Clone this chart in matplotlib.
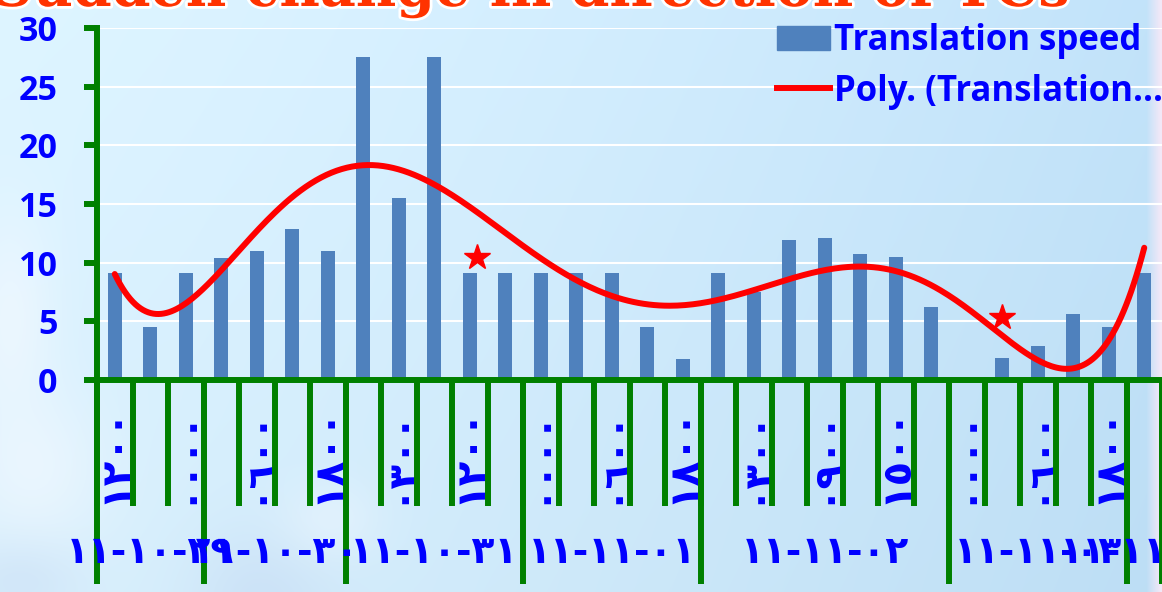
import numpy as np
import matplotlib
matplotlib.use("Agg")
import matplotlib.pyplot as plt
import matplotlib.patheffects as pe
from matplotlib.lines import Line2D
from matplotlib.patches import Patch

# translation speed of each fix
speed = [9.1, 4.5, 9.1, 10.4, 11.0, 12.9, 11.0, 27.5, 15.5, 27.5,
         9.1, 9.1, 9.1, 9.1, 9.1, 4.5, 1.8, 9.1, 7.5, 11.9,
         12.1, 10.7, 10.5, 6.2, 0.0, 1.9, 2.9, 5.6, 4.5, 9.1]

# observation hour, written on every second fix
hours = ["١٢٠٠", "", "٠٠٠٠", "", "٠٦٠٠", "", "١٨٠٠", "", "٠٣٠٠", "",
         "١٢٠٠", "", "٠٠٠٠", "", "٠٦٠٠", "", "١٨٠٠", "", "٠٣٠٠", "",
         "٠٩٠٠", "", "١٥٠٠", "", "٠٠٠٠", "", "٠٦٠٠", "", "١٨٠٠", ""]

# dates and how many fixes fall on each one
dates = ["١١-١٠-٢٩", "١١-١٠-٣٠", "١١-١٠-٣١", "١١-١١-٠١",
         "١١-١١-٠٢", "١١-١١-٠٣", "١١-١١-٠٤"]
fixes_per_date = [3, 4, 5, 5, 7, 5, 1]

# sudden direction changes
change_x = [11.2, 26.0]
change_y = [10.5, 5.4]

W, H = 1162, 592
GREEN = "#008000"
BLUE = "#0000FF"

plt.rcParams["font.family"] = ["Open Sans", "DejaVu Sans"]
plt.rcParams["font.weight"] = "bold"


def sky(w, h):
    yy, xx = np.mgrid[0:h, 0:w].astype(float)
    fx = xx / (w - 1)
    fy = yy / (h - 1)
    left = np.array([0.85, 0.94, 0.99])
    right = np.array([0.74, 0.87, 0.96])
    img = left + (right - left) * (fx ** 1.3)[..., None]
    img = img + 0.02 * (1 - fy)[..., None]

    def blob(cx, cy, sx, sy):
        return np.exp(-(((xx - cx) / sx) ** 2 + ((yy - cy) / sy) ** 2))[..., None]

    white = np.array([0.97, 0.98, 1.0])
    shade = np.array([0.76, 0.84, 0.95])
    for cx, cy, sx, sy, a, col in [(10, 320, 45, 110, 0.55, white),
                                   (35, 470, 70, 80, 0.5, white),
                                   (20, 580, 60, 40, 0.35, shade),
                                   (260, 600, 70, 70, 0.45, shade),
                                   (330, 520, 50, 40, 0.35, white)]:
        b = a * blob(cx, cy, sx, sy)
        img = img * (1 - b) + col * b

    edge = np.clip((xx - 1146) / 14, 0, 1)[..., None]
    img = img * (1 - edge) + np.array([0.95, 0.91, 0.97]) * edge
    return np.clip(img, 0, 1)


fig = plt.figure(figsize=(W / 100, H / 100), dpi=100)
bg = fig.add_axes([0, 0, 1, 1], zorder=-10)
bg.imshow(sky(W, H), aspect="auto", interpolation="bilinear")
bg.axis("off")

ax = fig.add_axes([97 / W, (H - 380) / H, (W - 97) / W, 352 / H])
ax.set_facecolor("none")

x = np.arange(1, len(speed) + 1)
ax.bar(x, speed, width=0.4, color="#4F81BD", zorder=2)

# 6th order polynomial trend of the speed
coef = np.polyfit(x, speed, 6)
xs = np.linspace(1, len(speed), 400)
ax.plot(xs, np.polyval(coef, xs), color="red", lw=4.3, zorder=3,
        solid_capstyle="round")
ax.plot(change_x, change_y, "*", color="red", ms=19, zorder=4)

ax.set_xlim(0.5, len(speed) + 0.5)
ax.set_ylim(0, 30)

for side in ["top", "right"]:
    ax.spines[side].set_visible(False)
for side in ["left", "bottom"]:
    ax.spines[side].set_color(GREEN)
    ax.spines[side].set_linewidth(4.3)
    ax.spines[side].set_zorder(5)

ax.yaxis.grid(True, color="white", lw=1.5, zorder=1)
ax.set_axisbelow(True)

ax.set_yticks(range(0, 31, 5))
ax.tick_params(axis="y", length=9.4, width=4.3, color=GREEN, pad=19,
               labelsize=24.5, labelcolor=BLUE)

# hour labels under each fix, category dividers between fixes
ax.set_xticks(x, hours, rotation=90, family=["DejaVu Sans"], fontsize=29,
              color=BLUE, fontweight="bold")
for lbl in ax.get_xticklabels():
    lbl.set_va("center")
ax.tick_params(axis="x", which="major", length=0, pad=54)
ax.set_xticks(np.arange(0.5, len(speed) + 1), minor=True)
ax.tick_params(axis="x", which="minor", length=90.7, width=4.3, color=GREEN)

# second level: dates
bounds = 0.5 + np.concatenate([[0], np.cumsum(fixes_per_date)])
sec = ax.secondary_xaxis("bottom")
sec.spines["bottom"].set_visible(False)
sec.set_xticks(bounds, [""] * len(bounds))
sec.tick_params(axis="x", which="major", length=147, width=4.3, color=GREEN)
sec.set_xticks((bounds[:-1] + bounds[1:]) / 2, dates, minor=True,
               family=["DejaVu Sans"], fontsize=27, color=BLUE,
               fontweight="bold")
for lbl in sec.get_xticklabels(minor=True):
    lbl.set_va("center")
sec.tick_params(axis="x", which="minor", length=0, pad=124.6)

handles = [Patch(color="#4F81BD"), Line2D([], [], color="red", lw=4.3)]
ax.legend(handles, ["Translation speed", "Poly. (Translation..."],
          loc="upper left", bbox_to_anchor=(777 / W, 1 - 23 / H),
          bbox_transform=fig.transFigure, frameon=False, borderpad=0,
          borderaxespad=0, handlelength=1.53, handleheight=0.7,
          handletextpad=0.1, labelspacing=0.42, labelcolor=BLUE,
          prop=dict(family="Open Sans", weight="bold", size=25))

fig.text(1068 / W, 1 - 6 / H, "Sudden change in direction of TCs",
         ha="right", va="baseline", fontsize=40, family="DejaVu Serif",
         weight="bold", color="#FF3300",
         path_effects=[pe.withStroke(linewidth=4, foreground="white")])

fig.savefig("out.png", dpi=100)
